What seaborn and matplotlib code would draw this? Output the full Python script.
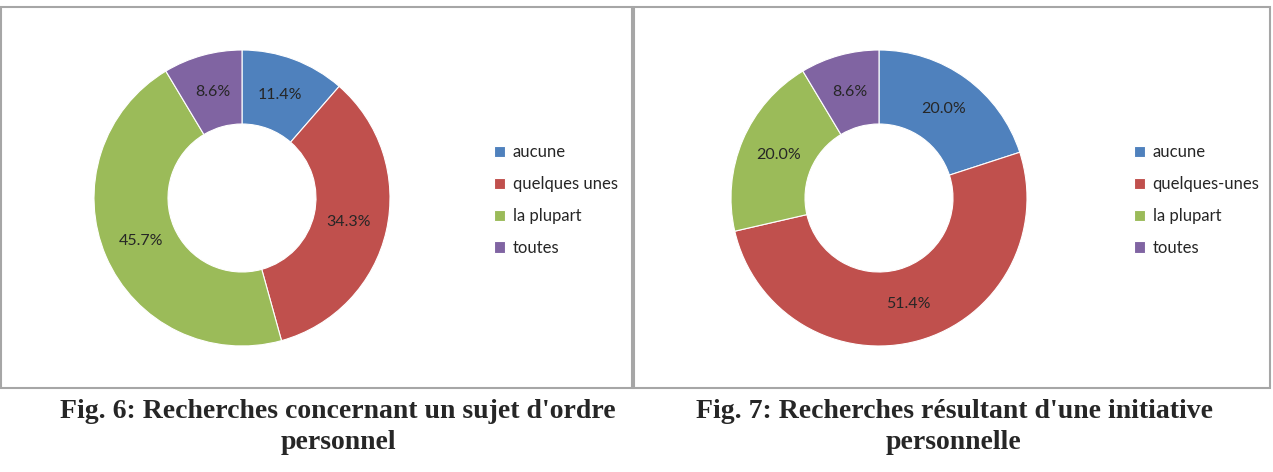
import matplotlib
matplotlib.use("Agg")
import matplotlib.pyplot as plt
import seaborn as sns
from matplotlib.patches import Rectangle

categories_6 = ["aucune", "quelques unes", "la plupart", "toutes"]
values_6 = [11.4, 34.3, 45.7, 8.6]
categories_7 = ["aucune", "quelques-unes", "la plupart", "toutes"]
values_7 = [20.0, 51.4, 20.0, 8.6]
title_6 = "Fig. 6: Recherches concernant un sujet d'ordre\npersonnel"
title_7 = "Fig. 7: Recherches résultant d'une initiative\npersonnelle"

sns.set_theme(style="white")
plt.rcParams['font.family'] = ['Lato', 'DejaVu Sans']
colors = sns.color_palette(["#4F81BD", "#C0504D", "#9BBB59", "#8064A2"])

W, H = 1273, 472
fig = plt.figure(figsize=(W / 100, H / 100), dpi=100)

# panel borders
for x0, x1 in [(1, 632), (634, 1270)]:
    fig.patches.append(Rectangle((x0 / W, (H - 388) / H), (x1 - x0) / W, 381 / H,
                                 transform=fig.transFigure, fill=False,
                                 edgecolor="#A6A6A6", linewidth=1.5))

R = 148


def donut(cx, cy, values, labels, legx):
    ax = fig.add_axes([(cx - R) / W, (H - cy - R) / H, 2 * R / W, 2 * R / H])
    wedges, _, autotexts = ax.pie(values, colors=colors, startangle=90, counterclock=False,
                                  autopct="%1.1f%%", pctdistance=0.74,
                                  wedgeprops=dict(width=0.5, linewidth=0.8, edgecolor="white"),
                                  textprops=dict(fontsize=11.5, color="#262626"))
    ax.set_xlim(-1, 1)
    ax.set_ylim(-1, 1)
    ax.axis("off")
    fig.legend(wedges, labels, loc="upper left",
               bbox_to_anchor=(legx / W, (H - 136) / H), frameon=False,
               fontsize=12, handlelength=0.65, handleheight=0.65, handletextpad=0.45,
               labelspacing=0.95, borderpad=0, labelcolor="#262626")


donut(242, 198, values_6, categories_6, 486)
donut(879, 198, values_7, categories_7, 1126)

fig.text(338 / W, (H - 427) / H, title_6, ha="center", va="center", fontsize=20,
         fontweight="bold", family="Liberation Serif", linespacing=1.35)
fig.text(954 / W, (H - 427) / H, title_7, ha="center", va="center", fontsize=20,
         fontweight="bold", family="Liberation Serif", linespacing=1.35)

fig.savefig("out.png", dpi=100)
